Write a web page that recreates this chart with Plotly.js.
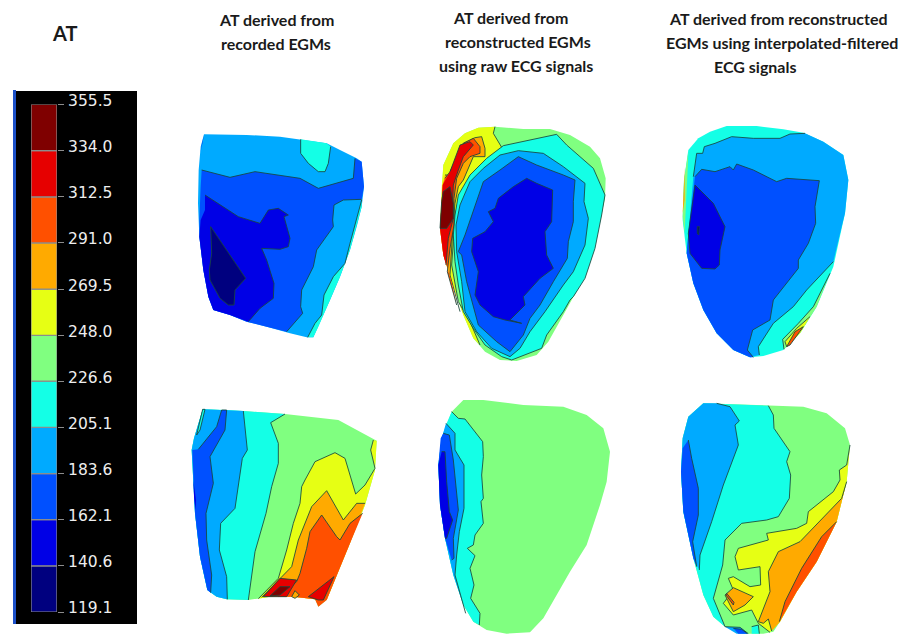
<!DOCTYPE html>
<html><head><meta charset="utf-8">
<script src="https://cdn.plot.ly/plotly-3.0.1.min.js"></script>
<style>html,body{margin:0;padding:0;background:#fff}#p{width:924px;height:634px}</style></head>
<body><div id="p"></div>
<script>
// AT levels and colours of the colour scale
const levels=[119.1,140.6,162.1,183.6,205.1,226.6,248.0,269.5,291.0,312.5,334.0,355.5];
const levelText=levels.map(v=>v.toFixed(1));
const bandColors=['#00007f','#0000e6','#0050ff','#00aaff','#14ffe6','#80ff80','#e6ff14','#ffaa00','#ff5000','#e60000','#7f0000'];

// Regions: [band, outline]. A null in an outline toggles between a drawn contour and the unlined rim.
const panelA=[
[3,[null,[72,43],[200,45],[300,50],[360,58],[440,70],[480,90],[530,115],[545,125],[552,200],[545,260],[530,320],[510,390],[480,470],[450,540],[415,620],[400,652],[380,652],[330,640],[260,620],[200,605],[150,585],[100,570],[85,530],[70,450],[58,350],[54,250],[56,150],[62,80]]],
[4,[[362,58],[362,100],[385,130],[415,155],[435,155],[445,130],[452,80],null,[440,70]]],
[4,[[545,240],[525,310],[510,370],[495,430],[460,470],[432,525],[425,585],[405,610],[383,652],null,[400,652],[415,620],[450,540],[480,470],[510,390],[530,320],[545,260]]],
[2,[[65,150],[150,172],[225,155],[300,165],[360,175],[415,205],[520,175],[525,115],null,[545,125],[552,200],null,[545,238],[490,240],[462,255],[458,300],[460,320],[410,390],[400,440],[365,510],[362,560],[368,580],[320,635],null,[260,620],[200,605],[150,585],[100,570],[85,530],[70,450],[58,350],[58,300],[62,200]]],
[1,[[75,225],[130,260],[175,290],[240,310],[265,270],[295,265],[325,285],[312,290],[320,320],[330,355],[325,380],[300,388],[245,385],[260,420],[282,490],[280,535],[240,565],[205,605],null,[150,585],[100,570],[85,530],[70,450],[58,350],[62,300],[75,270]]],
[0,[[92,320],[130,375],[197,475],[165,510],[162,555],[145,555],[120,535],[90,480],[88,450],[95,400],[92,320]]],
[1,[null,[72,45],[62,95],[66,70]]]
];
const panelB=[
[5,[null,[145,38],[195,35],[280,42],[360,42],[420,60],[480,95],[510,130],[527,190],[525,250],[510,320],[490,400],[450,510],[400,600],[355,680],[320,720],[260,738],[210,735],[165,710],[130,670],[100,600],[65,500],[40,420],[30,340],[35,220],[40,150],[70,85],[105,55]]],
[6,[[195,35],[190,55],[215,97],[205,110],[165,140],[120,190],[90,240],[75,300],[70,380],[65,450],[85,560],[120,620],[150,690],null,[130,670],[100,600],[65,500],[40,420],[30,340],[35,220],[40,150],[70,85],[105,55],[145,38]]],
[7,[[135,68],[155,65],[165,100],[165,125],[130,125],[112,165],[100,195],[85,215],[75,265],[70,320],[65,400],[60,480],[90,590],null,[65,500],[40,420],[30,340],[38,210],null,[45,180],[60,180],[100,85],[135,68]]],
[8,[[100,85],[130,70],[150,95],[150,115],[120,125],[100,145],[80,190],[72,250],[72,330],[60,400],[52,470],[80,570],null,[65,500],[40,420],[30,340],[38,210],null,[45,190],[60,170],[100,85]]],
[9,[[90,90],[120,80],[130,90],[100,125],[85,165],[70,210],[68,270],[70,310],[55,370],[48,450],null,[40,420],[30,340],[38,210],null,[60,170],[90,90]]],
[10,[[40,230],[60,215],[70,265],[70,310],[50,340],[30,340],[35,260],[40,230]]],
[4,[[220,92],[300,75],[380,58],[410,90],[450,125],[490,160],[525,240],[515,300],[495,400],[465,490],[430,545],[420,555],[400,590],[350,660],[335,700],[245,735],[215,725],[165,690],[130,640],[100,590],[85,510],[75,440],[70,360],[75,300],[85,240],[120,180],[170,130],[220,92]]],
[3,[[210,120],[265,107],[340,115],[400,155],[465,205],[462,260],[475,310],[465,390],[430,470],[400,510],[345,590],[300,650],[270,700],[240,725],[185,700],[140,650],[105,590],[95,500],[80,410],[78,330],[90,270],[120,200],[160,160],[210,120]]],
[2,[[265,125],[320,150],[400,180],[435,195],[430,260],[430,320],[415,380],[412,430],[370,500],[330,570],[300,610],[280,660],[240,710],[200,680],[145,630],[125,560],[110,500],[95,420],[85,410],[105,360],[125,300],[160,200],[210,165],[265,125]]],
[1,[[290,190],[320,205],[368,225],[365,320],[345,350],[350,420],[370,460],[330,490],[280,545],[285,570],[240,615],[275,625],[225,615],[190,605],[150,570],[135,540],[145,470],[125,410],[128,370],[165,350],[190,320],[175,290],[195,280],[205,250],[250,215],[290,190]]]
];
const panelC=[
[4,[null,[120,35],[170,18],[260,18],[340,28],[400,38],[460,65],[520,105],[535,180],[525,280],[510,350],[490,440],[440,560],[390,640],[340,690],[280,708],[240,712],[190,690],[140,640],[100,570],[70,490],[50,400],[38,300],[42,180],[55,90],[85,55]]],
[3,[[70,170],[80,100],[98,100],[103,80],[135,70],[185,50],[250,55],[330,55],[360,42],[405,40],null,[460,65],[520,105],[535,180],[525,280],[515,320],null,[490,425],[410,510],[370,560],[310,610],[265,680],[268,705],null,[240,712],[190,690],[140,640],[100,570],[70,490],[50,400]]],
[2,[[75,170],[95,148],[135,155],[180,140],[190,150],[200,132],[250,150],[320,185],[350,175],[448,182],[435,260],[437,310],[415,370],[385,420],[385,445],[310,540],[300,600],[248,630],[232,690],[250,712],null,[240,712],[190,690],[140,640],[100,570],[70,490],[50,400],[55,340]]],
[1,[[75,195],[130,250],[165,320],[150,390],[148,435],[135,447],[95,445],[60,400],[55,340],[65,260],[75,195]]],
[0,[[82,320],[88,320],[86,345],[82,340],[82,320]]],
[5,[null,[55,95],[42,180],[38,290],[44,340],[48,250],[52,170]]],
[7,[null,[44,145],[38,280],[44,240]]],
[5,[[480,460],[430,560],[385,610],[338,658],[342,688],null,[390,640],[440,560]]],
[6,[[420,590],[380,625],[345,665],[350,680],null,[390,640]]],
[8,[[400,620],[375,635],[350,680],[360,675],[400,620]]]
];
const panelD=[
[5,[null,[68,28],[140,30],[190,33],[315,42],[475,60],[590,122],[585,210],[555,315],[510,430],[440,600],[415,620],[405,598],[340,590],[270,590],[205,600],[140,598],[110,590],[82,570],[60,470],[45,340],[35,150],[42,115]]],
[6,[[580,120],[572,150],[585,205],[555,255],[527,282],[495,175],[465,158],[405,185],[375,240],[365,260],[360,310],[340,370],[320,450],[295,535],[235,596],null,[270,590],[340,590],[405,598],[440,600],[510,430],[555,315],[585,210],[590,122]]],
[7,[[555,310],[530,310],[490,360],[440,272],[395,320],[375,370],[355,420],[335,500],[290,545],[245,592],null,[270,590],[340,590],[405,598],[440,600],[510,430]]],
[8,[[548,340],[510,370],[480,420],[470,410],[425,345],[390,395],[380,445],[360,520],[350,545],[295,590],null,[340,590],[405,598],[415,620],[440,600],[510,430]]],
[9,[[350,540],[300,535],[250,590],[320,590],[350,540]]],
[10,[[300,560],[330,560],[300,585],[270,588],[300,560]]],
[9,[[462,530],[430,600],[415,600],[385,590],[462,530]]],
[7,[[345,572],[358,585],[345,595],[335,590],[345,572]]],
[4,[[315,42],[272,68],[295,130],[295,190],[275,260],[258,340],[225,455],[205,600],null,[140,598],[110,590],[82,570],[60,470],[45,340],[35,150],[42,115],[68,28],[140,30],[190,33]]],
[3,[[190,33],[202,150],[187,175],[165,325],[122,370],[118,450],[140,530],[142,598],null,[110,590],[82,570],[60,470],[45,340],[35,150],[42,115],[68,28]]],
[2,[[125,30],[140,30],[135,90],[90,170],[100,250],[78,340],[80,420],[95,525],[92,578],null,[82,570],[60,470],[45,340],[37,150],null,[55,148],[110,80],[125,30]]],
[1,[null,[40,240],[48,300],[47,330],[42,290]]],
[4,[[68,28],[75,28],[60,90],[50,105],[68,28]]]
];
const panelE=[
[5,[null,[100,15],[160,15],[280,30],[400,35],[470,60],[520,100],[540,170],[530,260],[510,330],[470,450],[420,530],[380,600],[340,670],[300,712],[230,716],[170,705],[130,680],[100,630],[70,540],[45,430],[30,330],[25,210],[35,130],[65,50]]],
[4,[[65,50],[85,70],[105,72],[158,140],[160,185],[155,240],[160,310],[153,320],[160,385],[135,420],[130,450],[112,460],[135,482],[120,520],[132,570],[122,610],[150,655],[148,690],null,[130,680],[100,630],[70,540],[45,430],[30,330],[25,210],[35,130],[50,85]]],
[3,[[48,85],[75,115],[75,165],[102,210],[102,340],[88,410],[80,480],[75,540],[107,655],null,[100,630],[70,540],[45,430],[30,330],[25,210],[35,130]]],
[2,[[40,115],[58,120],[70,195],[78,270],[85,345],[70,430],[72,490],[65,495],null,[45,430],[30,330],[25,210],[32,130]]],
[1,[[35,170],[45,170],[50,260],[58,350],[68,375],[50,430],[45,430],null,[30,330],[25,210]]]
];
const panelF=[
[5,[null,[100,25],[180,28],[300,32],[400,35],[470,55],[525,100],[540,150],[530,260],[500,380],[440,500],[380,590],[330,680],[310,710],[280,716],[220,716],[165,695],[130,665],[100,600],[70,490],[40,350],[33,230],[38,130],[55,65]]],
[4,[[295,32],[310,60],[312,100],[360,170],[350,200],[362,240],[358,310],[325,365],[290,375],[215,385],[165,435],[158,510],[130,610],[165,695],null,[130,665],[100,600],[70,490],[40,350],[33,230],[38,130],[55,65],[100,25],[180,28]]],
[3,[[140,25],[180,35],[208,78],[195,90],[205,150],[160,270],[125,380],[90,480],[88,525],null,[70,490],[40,350],[33,230],[38,130],[55,65],[100,25]]],
[2,[[55,135],[65,190],[85,280],[85,360],[68,440],[80,515],null,[70,490],[40,350],[33,230],[38,160]]],
[6,[[540,150],[530,210],[508,225],[510,255],[490,290],[415,350],[410,385],[380,400],[290,415],[295,435],[205,460],[195,485],[205,525],[270,515],[272,570],[240,575],[190,545],[175,550],[190,585],[160,625],[190,660],[245,645],[265,685],[300,712],null,[330,680],[380,590],[440,500],[500,380],[530,260]]],
[7,[[530,260],[515,310],[390,440],[325,470],[295,530],[300,590],[265,680],[280,685],[295,672],[305,708],null,[330,680],[380,590],[440,500],[500,380]]],
[8,[[500,380],[455,425],[395,520],[345,620],[328,680],null,[380,590],[440,500]]],
[7,[[190,578],[250,605],[225,630],[190,650],[165,600],[190,578]]],
[8,[[170,595],[192,622],[190,630],[168,600],[170,595]]],
[3,[[165,695],[210,697],[235,716],null,[200,716]]],
[2,[[190,700],[215,703],[232,716],null,[205,716]]],
[4,[[245,695],[265,690],[268,716],null,[245,716]]]
];
const panelOrigins=[[panelA,180,120],[panelB,430,115],[panelC,670,120],[panelD,180,400],[panelE,430,395],[panelF,670,395]];

const titleLines=[
['AT',64,33,20],
['AT derived from',276,19,16],['recorded EGMs',276,43,16],
['AT derived from',510,17,16],['reconstructed EGMs',518,41,16],['using raw ECG signals',516,65,16],
['AT derived from reconstructed',778,18,16],['EGMs using interpolated-filtered',782,42,16],['ECG signals',755,66,16]
];

const traces=[];
panelOrigins.forEach(([regions,ox,oy])=>{
  regions.forEach(([band,outline])=>{
    const px=p=>ox+p[0]/3, py=p=>oy+p[1]/3;
    const pts=outline.filter(p=>p);
    traces.push({type:'scatter',mode:'lines',x:pts.map(px),y:pts.map(py),fill:'toself',fillcolor:bandColors[band],
      line:{width:0,color:bandColors[band]},hoverinfo:'skip',showlegend:false});
    const lx=[],ly=[];let lined=true;
    outline.forEach(p=>{
      if(p===null){lined=!lined;lx.push(null);ly.push(null);return;}
      if(lined){lx.push(px(p));ly.push(py(p));}
    });
    if(lx.some(v=>v!==null)) traces.push({type:'scatter',mode:'lines',x:lx,y:ly,connectgaps:false,
      line:{width:1,color:'rgba(25,70,60,0.85)'},hoverinfo:'skip',showlegend:false});
  });
});
// colour scale, drawn as bars on a value axis
traces.push({type:'bar',xaxis:'x2',yaxis:'y2',x:bandColors.map(()=>0),base:levels.slice(0,-1),
  y:levels.slice(1).map((v,i)=>v-levels[i]),width:1,
  marker:{color:bandColors,line:{color:'#8c8c8c',width:1.2}},hoverinfo:'skip',showlegend:false});

const layout={width:924,height:634,margin:{l:0,r:0,t:0,b:0},paper_bgcolor:'#fff',plot_bgcolor:'rgba(0,0,0,0)',showlegend:false,barmode:'overlay',
  xaxis:{range:[0,924],visible:false,domain:[0,1]},
  yaxis:{range:[634,0],visible:false,domain:[0,1]},
  xaxis2:{domain:[31/924,57/924],range:[-0.5,0.5],visible:false,anchor:'y2'},
  yaxis2:{domain:[(634-612)/634,(634-104.5)/634],range:[119.1,355.5],anchor:'x2',side:'right',showgrid:false,zeroline:false,showline:false,
    tickmode:'array',tickvals:levels,ticktext:levelText,ticks:'outside',ticklen:6,tickcolor:'#8c8c8c',tickwidth:1,ticklabelshift:-4,ticklabelstandoff:1,
    tickfont:{family:'DejaVu Sans',size:15.5,color:'#eeeeee'}},
  shapes:[
    {type:'rect',xref:'x',yref:'y',x0:16,x1:137,y0:91,y1:624,fillcolor:'#000',line:{width:0},layer:'below'},
    {type:'rect',xref:'x',yref:'y',x0:13,x1:16,y0:90,y1:624,fillcolor:'#1c50c8',line:{width:0},layer:'below'}
  ],
  annotations:titleLines.map(([t,x,y,s])=>({text:'<b>'+t+'</b>',x,y,xref:'x',yref:'y',showarrow:false,xanchor:'center',yanchor:'middle',
    font:{family:'Lato',size:s,color:'#1a1a1a'}}))
};
Plotly.newPlot('p',traces,layout,{displayModeBar:false,staticPlot:true});
</script></body></html>
